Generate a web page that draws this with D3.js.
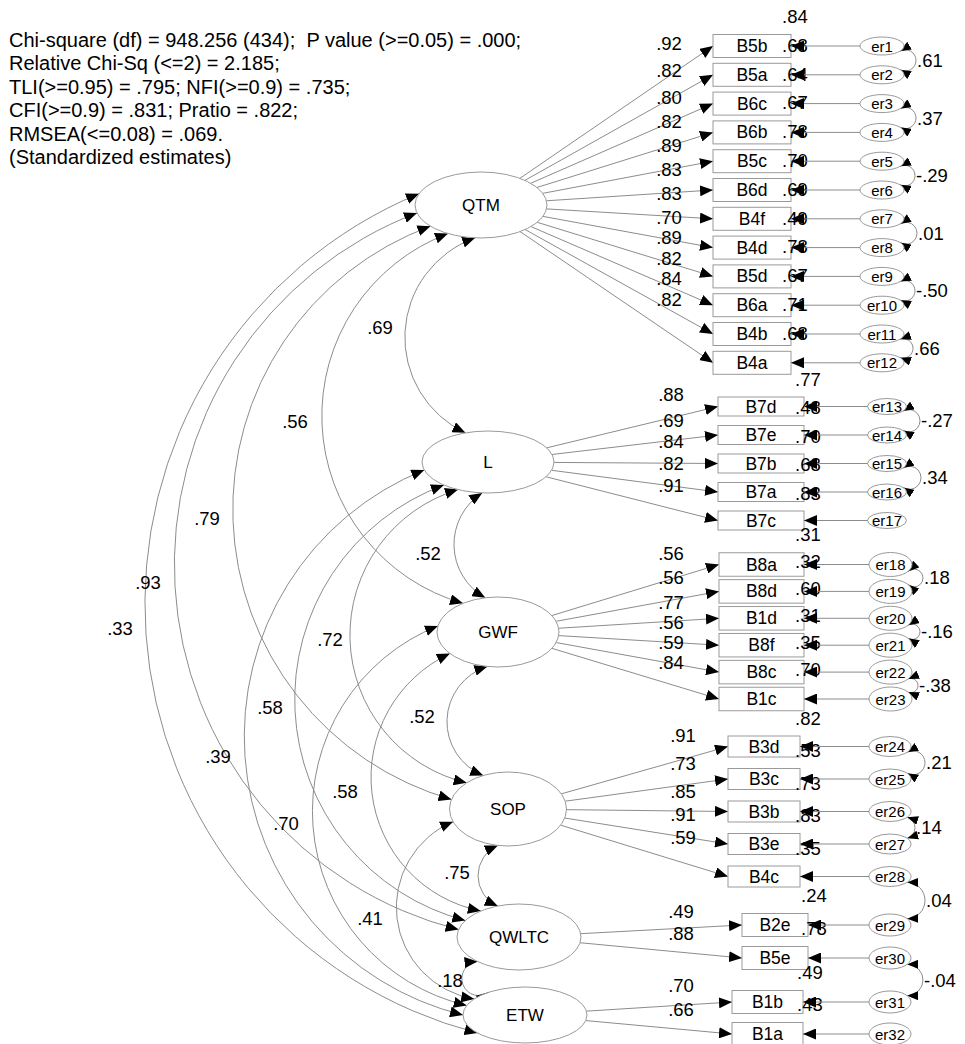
<!DOCTYPE html>
<html>
<head>
<meta charset="utf-8">
<script src="https://cdn.jsdelivr.net/npm/d3@7"></script>
<style>
  body { margin: 0; background: #fff; }
  svg { display: block; }
  text { font-family: Arial, "Liberation Sans", sans-serif; fill: #000; }
</style>
</head>
<body>
<svg id="sem" width="965" height="1044"></svg>
<script>
// ---------------- model results ----------------
const fitLines = [
  "Chi-square (df) = 948.256 (434);  P value (>=0.05) = .000;",
  "Relative Chi-Sq (<=2) = 2.185;",
  "TLI(>=0.95) = .795; NFI(>=0.9) = .735;",
  "CFI(>=0.9) = .831; Pratio = .822;",
  "RMSEA(<=0.08) = .069.",
  "(Standardized estimates)"
];

const factors = ["QTM", "L", "GWF", "SOP", "QWLTC", "ETW"];

const qtmItems    = ["B5b", "B5a", "B6c", "B6b", "B5c", "B6d", "B4f", "B4d", "B5d", "B6a", "B4b", "B4a"];
const qtmLoadings = [.92, .82, .80, .82, .89, .83, .83, .70, .89, .82, .84, .82];
const qtmR2       = [.84, .68, .64, .67, .78, .70, .69, .49, .78, .67, .71, .68];

const lItems    = ["B7d", "B7e", "B7b", "B7a", "B7c"];
const lLoadings = [.88, .69, .84, .82, .91];
const lR2       = [.77, .48, .70, .68, .83];

const gwfItems    = ["B8a", "B8d", "B1d", "B8f", "B8c", "B1c"];
const gwfLoadings = [.56, .56, .77, .56, .59, .84];
const gwfR2       = [.31, .32, .60, .31, .35, .70];

const sopItems    = ["B3d", "B3c", "B3b", "B3e", "B4c"];
const sopLoadings = [.91, .73, .85, .91, .59];
const sopR2       = [.82, .53, .73, .83, .35];

const qwltcItems    = ["B2e", "B5e"];
const qwltcLoadings = [.49, .88];
const qwltcR2       = [.24, .78];

const etwItems    = ["B1b", "B1a"];
const etwLoadings = [.70, .66];
const etwR2       = [.49, .43];

// factor correlations
const corrPairs = [
  ["QTM", "L"], ["L", "GWF"], ["GWF", "SOP"], ["SOP", "QWLTC"], ["QWLTC", "ETW"],
  ["QTM", "GWF"], ["L", "SOP"], ["GWF", "QWLTC"], ["SOP", "ETW"],
  ["QTM", "SOP"], ["L", "QWLTC"], ["GWF", "ETW"],
  ["QTM", "QWLTC"], ["L", "ETW"], ["QTM", "ETW"]
];
const corrValues = [.69, .52, .52, .75, .18, .56, .72, .58, .41, .79, .58, .70, .93, .39, .33];

// correlated measurement errors
const errCovPairs = [[1, 2], [3, 4], [5, 6], [7, 8], [9, 10], [11, 12], [13, 14], [15, 16],
                     [18, 19], [20, 21], [22, 23], [24, 25], [26, 27], [28, 29], [30, 31]];
const errCovValues = [.61, .37, -.29, .01, -.50, .66, -.27, .34, .18, -.16, -.38, .21, .14, .04, -.04];

// ---------------- layout ----------------
const factorShape = {
  QTM:   { cx: 481, cy: 205,  rx: 66,   ry: 33 },
  L:     { cx: 488, cy: 462,  rx: 66,   ry: 31 },
  GWF:   { cx: 498, cy: 632,  rx: 61,   ry: 35 },
  SOP:   { cx: 508, cy: 809,  rx: 58.5, ry: 37 },
  QWLTC: { cx: 519, cy: 937,  rx: 62,   ry: 33 },
  ETW:   { cx: 525, cy: 1015, rx: 62,   ry: 28 }
};

const blocks = [
  { factor: "QTM", items: qtmItems, loadings: qtmLoadings, r2: qtmR2,
    boxX: 713, boxW: 78, boxH: 23, rowY: [46, 362.8], errCx: 882, errRx: 22, errRy: 9,
    labX: 669, labDom: [0, 2, 7, 11], labRng: [43, 97, 217, 299], r2Dx: -9 },
  { factor: "L", items: lItems, loadings: lLoadings, r2: lR2,
    boxX: 718, boxW: 86, boxH: 19, rowY: [406.5, 520.5], errCx: 887, errRx: 19.5, errRy: 8,
    labX: 671, labDom: [0, 1, 4], labRng: [394, 420, 485], r2Dx: -9 },
  { factor: "GWF", items: gwfItems, loadings: gwfLoadings, r2: gwfR2,
    boxX: 719, boxW: 85, boxH: 23.5, rowY: [564.5, 699], errCx: 890.5, errRx: 21.5, errRy: 12,
    labX: 671, labDom: [0, 2, 5], labRng: [553, 602, 662], r2Dx: -9 },
  { factor: "SOP", items: sopItems, loadings: sopLoadings, r2: sopR2,
    boxX: 728, boxW: 72, boxH: 21, rowY: [746.5, 876.5], errCx: 890, errRx: 21, errRy: 10,
    labX: 683, labDom: [0, 2, 4], labRng: [735, 791, 837], r2Dx: -5 },
  { factor: "QWLTC", items: qwltcItems, loadings: qwltcLoadings, r2: qwltcR2,
    boxX: 742, boxW: 66, boxH: 23, rowY: [925, 958], errCx: 890, errRx: 21, errRy: 11,
    labX: 681, labDom: [0, 1], labRng: [911, 933], r2Dx: -7 },
  { factor: "ETW", items: etwItems, loadings: etwLoadings, r2: etwR2,
    boxX: 732, boxW: 71, boxH: 23, rowY: [1002, 1034], errCx: 890, errRx: 21, errRy: 11,
    labX: 681, labDom: [0, 1], labRng: [985, 1009], r2Dx: -6 }
];

// attachment angles (deg) on each factor, leftmost reach of each arc, label nudge
const corrLayout = [
  { a1: 95,  a2: 250, xExt: 405, ldx: -25, ldy: -5 },
  { a1: 95,  a2: 258, xExt: 454, ldx: -26, ldy: 7 },
  { a1: 100, a2: 245, xExt: 447, ldx: -25, ldy: -3 },
  { a1: 100, a2: 250, xExt: 478, ldx: -21, ldy: -3 },
  { a1: 132, a2: 235, xExt: 463, ldx: -13, ldy: -4 },
  { a1: 120, a2: 235, xExt: 322, ldx: -27, ldy: -2 },
  { a1: 117, a2: 225, xExt: 350, ldx: -20, ldy: 0 },
  { a1: 142, a2: 232, xExt: 372, ldx: -27, ldy: -2 },
  { a1: 160, a2: 215, xExt: 397, ldx: -27, ldy: 0 },
  { a1: 140, a2: 195, xExt: 233, ldx: -26, ldy: -2 },
  { a1: 132, a2: 210, xExt: 295, ldx: -25, ldy: -3 },
  { a1: 190, a2: 200, xExt: 313, ldx: -27, ldy: -3 },
  { a1: 166, a2: 193, xExt: 175, ldx: -27, ldy: -4 },
  { a1: 165, a2: 180, xExt: 245, ldx: -27, ldy: 0 },
  { a1: 200, a2: 140, xExt: 146, ldx: -26, ldy: -6 }
];
const errCovReach = [916, 916, 915, 917, 915, 913, 920, 921, 923, 920, 918, 925, 915, 925, 923];

// ---------------- helpers ----------------
const fmt = v => d3.format(".2f")(v).replace("\u2212", "-").replace(/^(-?)0\./, "$1.");
const rad = d => d * Math.PI / 180;
const onEllipse = (e, deg) => [e.cx + e.rx * Math.cos(rad(deg)), e.cy + e.ry * Math.sin(rad(deg))];
function towards(e, tx, ty) {
  const dx = tx - e.cx, dy = ty - e.cy;
  const t = 1 / Math.sqrt((dx / e.rx) ** 2 + (dy / e.ry) ** 2);
  return [e.cx + dx * t, e.cy + dy * t];
}
// circular arc from A to B whose outermost x reaches xExt on the given side (-1 left, +1 right)
function bowArc(A, B, xExt, side) {
  const dx = B[0] - A[0], dy = B[1] - A[1], c = Math.hypot(dx, dy);
  const M = [(A[0] + B[0]) / 2, (A[1] + B[1]) / 2];
  let n = [dy / c, -dx / c];
  if (Math.sign(n[0]) !== side) n = [-n[0], -n[1]];
  const s = (xExt - M[0]) / n[0];
  const r = (c * c / 4 + s * s) / (2 * s);
  const large = s > c / 2 ? 1 : 0;
  const cross = dx * n[1] - dy * n[0];
  const sweep = cross > 0 ? 0 : 1;
  return {
    d: `M${A[0]},${A[1]}A${r},${r} 0 ${large} ${sweep} ${B[0]},${B[1]}`,
    peak: [M[0] + n[0] * s, M[1] + n[1] * s]
  };
}

// ---------------- drawing ----------------
const NUM = 18.5;   // size of coefficient labels
const svg = d3.select("#sem");
svg.append("rect").attr("width", 965).attr("height", 1044).attr("fill", "#fff");

const defs = svg.append("defs");
function addMarker(id, len, wid) {
  defs.append("marker")
    .attr("id", id).attr("viewBox", `0 0 ${len} ${wid}`)
    .attr("refX", len).attr("refY", wid / 2)
    .attr("markerWidth", len).attr("markerHeight", wid)
    .attr("markerUnits", "userSpaceOnUse").attr("orient", "auto-start-reverse")
    .append("path").attr("d", `M0,0L${len},${wid / 2}L0,${wid}Z`).attr("fill", "#000");
}
addMarker("head", 13, 11);
addMarker("headS", 11, 9);

const LINE = "#8c8c8c";
const gArcs = svg.append("g");
const gLines = svg.append("g");
const gShapes = svg.append("g");
const gText = svg.append("g");
const gTop = svg.append("g");

// factor correlation arcs
corrPairs.forEach(([f1, f2], i) => {
  const lay = corrLayout[i];
  const A = onEllipse(factorShape[f1], lay.a1);
  const B = onEllipse(factorShape[f2], lay.a2);
  const arc = bowArc(A, B, lay.xExt, -1);
  gArcs.append("path").attr("d", arc.d)
    .attr("fill", "none").attr("stroke", LINE).attr("stroke-width", 1)
    .attr("marker-start", "url(#head)").attr("marker-end", "url(#head)");
  gText.append("text")
    .attr("x", arc.peak[0] + lay.ldx).attr("y", arc.peak[1] + lay.ldy)
    .attr("text-anchor", "middle").attr("dominant-baseline", "central")
    .attr("font-size", NUM).text(fmt(corrValues[i]));
});

// indicators, errors, loadings
const errCenters = {};
let errNo = 0;
blocks.forEach(b => {
  const fe = factorShape[b.factor];
  const y = d3.scaleLinear().domain([0, b.items.length - 1]).range(b.rowY);
  const labY = d3.scaleLinear().domain(b.labDom).range(b.labRng);

  b.items.forEach((name, i) => {
    const cy = y(i);
    errNo += 1;
    const errName = "er" + errNo;
    errCenters[errNo] = { cx: b.errCx, cy: cy, rx: b.errRx, ry: b.errRy };

    // loading path
    const S = towards(fe, b.boxX, cy);
    gLines.append("line")
      .attr("x1", S[0]).attr("y1", S[1]).attr("x2", b.boxX).attr("y2", cy)
      .attr("stroke", LINE).attr("stroke-width", 1).attr("marker-end", "url(#head)");

    // indicator box
    gShapes.append("rect")
      .attr("x", b.boxX).attr("y", cy - b.boxH / 2)
      .attr("width", b.boxW).attr("height", b.boxH)
      .attr("fill", "#fff").attr("stroke", "#9a9a9a").attr("stroke-width", 1);
    gText.append("text")
      .attr("x", b.boxX + b.boxW / 2).attr("y", cy)
      .attr("text-anchor", "middle").attr("dominant-baseline", "central")
      .attr("font-size", 17.5).text(name);

    // error term
    gShapes.append("ellipse")
      .attr("cx", b.errCx).attr("cy", cy).attr("rx", b.errRx).attr("ry", b.errRy)
      .attr("fill", "#fff").attr("stroke", "#9a9a9a").attr("stroke-width", 1);
    gText.append("text")
      .attr("x", b.errCx).attr("y", cy)
      .attr("text-anchor", "middle").attr("dominant-baseline", "central")
      .attr("font-size", 15).text(errName);
    gTop.append("line")
      .attr("x1", b.errCx - b.errRx).attr("y1", cy).attr("x2", b.boxX + b.boxW).attr("y2", cy)
      .attr("stroke", LINE).attr("stroke-width", 1).attr("marker-end", "url(#head)");

    // loading label
    gText.append("text")
      .attr("x", b.labX).attr("y", labY(i))
      .attr("text-anchor", "middle").attr("dominant-baseline", "central")
      .attr("font-size", NUM).text(fmt(b.loadings[i]));

    // squared multiple correlation
    gText.append("text")
      .attr("x", b.boxX + b.boxW + b.r2Dx).attr("y", cy - b.boxH / 2 - 18)
      .attr("dominant-baseline", "central")
      .attr("font-size", NUM).text(fmt(b.r2[i]));
  });
});

// error covariances
errCovPairs.forEach(([i, j], k) => {
  const e1 = errCenters[i], e2 = errCenters[j];
  const A = onEllipse(e1, 35), B = onEllipse(e2, -35);
  const arc = bowArc(A, B, errCovReach[k], 1);
  gArcs.append("path").attr("d", arc.d)
    .attr("fill", "none").attr("stroke", LINE).attr("stroke-width", 1)
    .attr("marker-start", "url(#headS)").attr("marker-end", "url(#headS)");
  gText.append("text")
    .attr("x", errCovReach[k] + 1).attr("y", (e1.cy + e2.cy) / 2)
    .attr("dominant-baseline", "central")
    .attr("font-size", NUM).text(fmt(errCovValues[k]));
});

// latent factors
factors.forEach(f => {
  const e = factorShape[f];
  gShapes.append("ellipse")
    .attr("cx", e.cx).attr("cy", e.cy).attr("rx", e.rx).attr("ry", e.ry)
    .attr("fill", "#fff").attr("stroke", "#9a9a9a").attr("stroke-width", 1);
  gText.append("text")
    .attr("x", e.cx).attr("y", e.cy)
    .attr("text-anchor", "middle").attr("dominant-baseline", "central")
    .attr("font-size", 17).text(f);
});

// fit statistics
const lineY = d3.scaleLinear().domain([0, fitLines.length - 1]).range([40, 157]);
fitLines.forEach((t, i) => {
  gText.append("text")
    .attr("x", 9).attr("y", lineY(i))
    .attr("dominant-baseline", "central")
    .attr("font-size", 20)
    .style("white-space", "pre").text(t);
});
</script>
</body>
</html>
